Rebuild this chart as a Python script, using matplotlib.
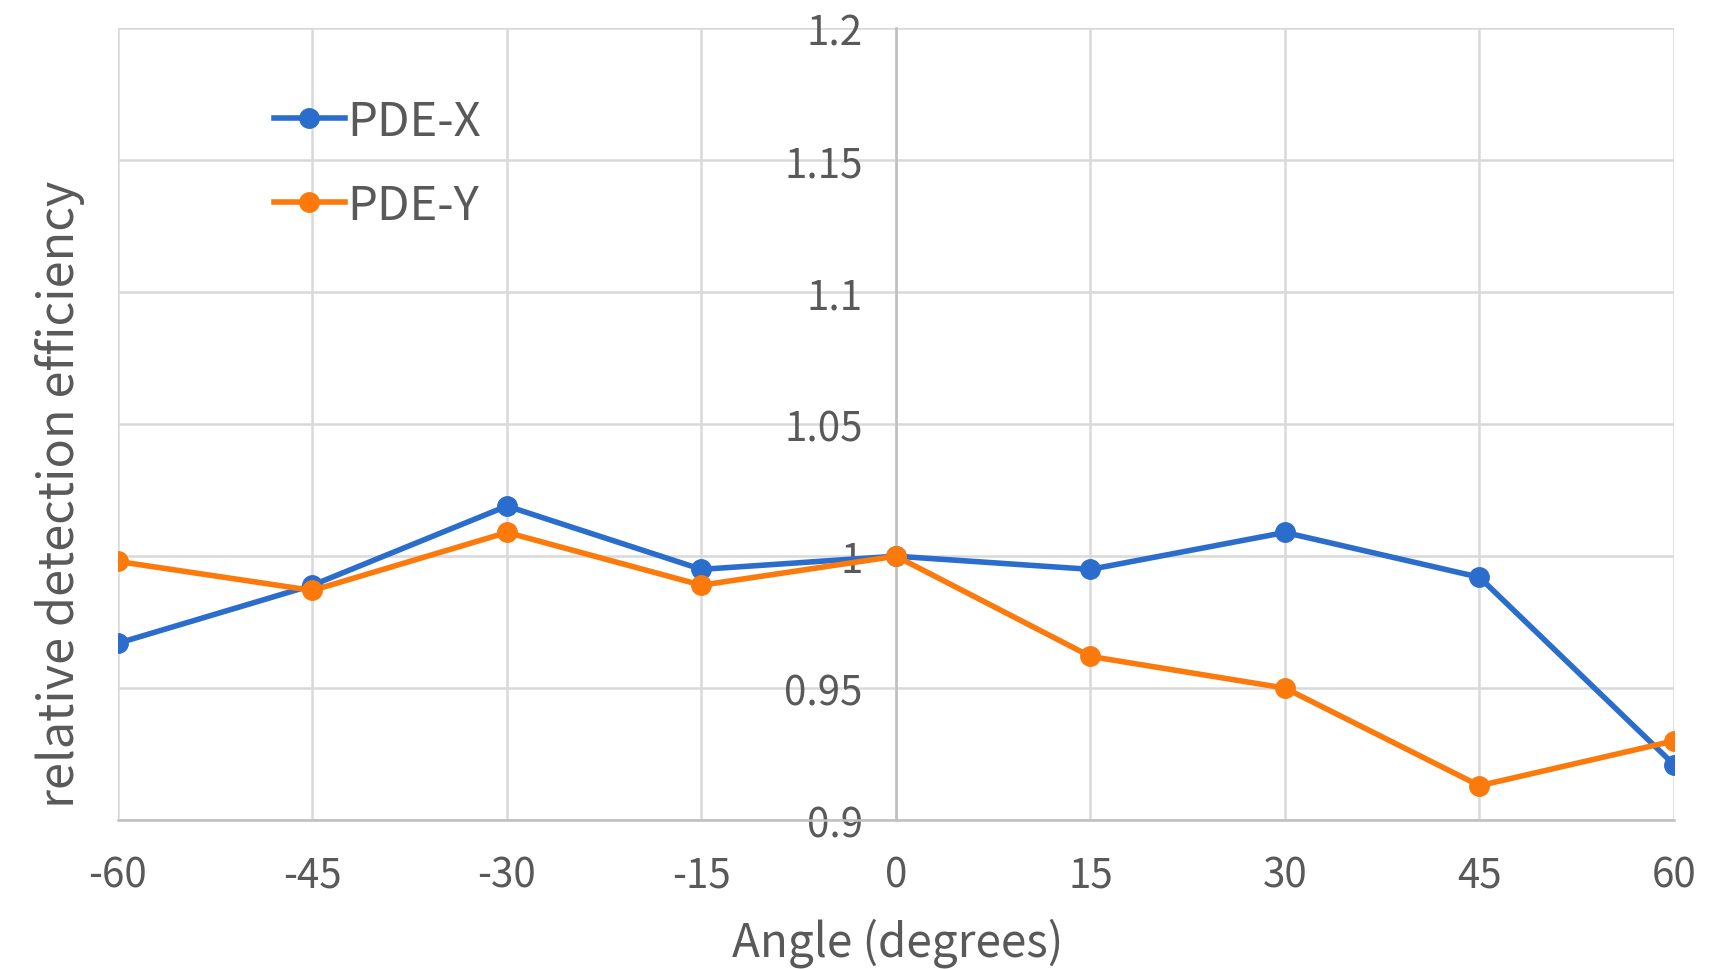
import matplotlib
matplotlib.use("Agg")
import matplotlib.pyplot as plt

angles = [-60, -45, -30, -15, 0, 15, 30, 45, 60]
pde_x = [0.967, 0.989, 1.019, 0.995, 1.000, 0.995, 1.009, 0.992, 0.921]
pde_y = [0.998, 0.987, 1.009, 0.989, 1.000, 0.962, 0.950, 0.913, 0.930]
y_ticks = [0.9, 0.95, 1.0, 1.05, 1.1, 1.15, 1.2]
y_tick_labels = ["0.9", "0.95", "1", "1.05", "1.1", "1.15", "1.2"]

plt.rcParams['font.family'] = ['Noto Sans CJK SC', 'DejaVu Sans']
txt = '#595959'
grid_c = '#d9d9d9'

fig = plt.figure(figsize=(17.09, 9.70), dpi=100)
ax = fig.add_axes([0.069, 0.1536, 0.9105, 0.816])

ax.plot(angles, pde_x, color='#2b6dcc', lw=4, marker='o', ms=14, label='PDE-X', zorder=3)
ax.plot(angles, pde_y, color='#fb7a0b', lw=4, marker='o', ms=14, label='PDE-Y', zorder=3)

ax.set_xlim(-60, 60)
ax.set_ylim(0.9, 1.2)
ax.set_xticks(angles)
ax.set_xticklabels([str(a) for a in angles])
ax.set_yticks(y_ticks)
ax.set_yticklabels(y_tick_labels)

for s in ['top', 'right']:
    ax.spines[s].set_visible(False)
ax.spines['left'].set_position(('data', 0))
ax.spines['left'].set_color('#bfbfbf')
ax.spines['left'].set_linewidth(1.8)
ax.spines['bottom'].set_color('#bfbfbf')
ax.spines['bottom'].set_linewidth(1.8)

ax.grid(True, color=grid_c, lw=1.8, zorder=0)
ax.set_axisbelow(True)

ax.tick_params(axis='both', length=0, labelsize=29, labelcolor=txt)
ax.tick_params(axis='x', pad=25)
ax.tick_params(axis='y', pad=24)

fig.text(0.035, 0.49, 'relative detection efficiency', rotation=90, ha='center', va='center',
         fontsize=35, color=txt)
fig.text(0.525, 0.028, 'Angle (degrees)', ha='center', va='center', fontsize=33, color=txt)

leg = ax.legend(loc='upper left', bbox_to_anchor=(0.073, 0.967), frameon=False,
                fontsize=34, labelcolor=txt, handlelength=1.5, handletextpad=0.05,
                labelspacing=0.75)

fig.savefig('out.png', dpi=100, facecolor='white')
